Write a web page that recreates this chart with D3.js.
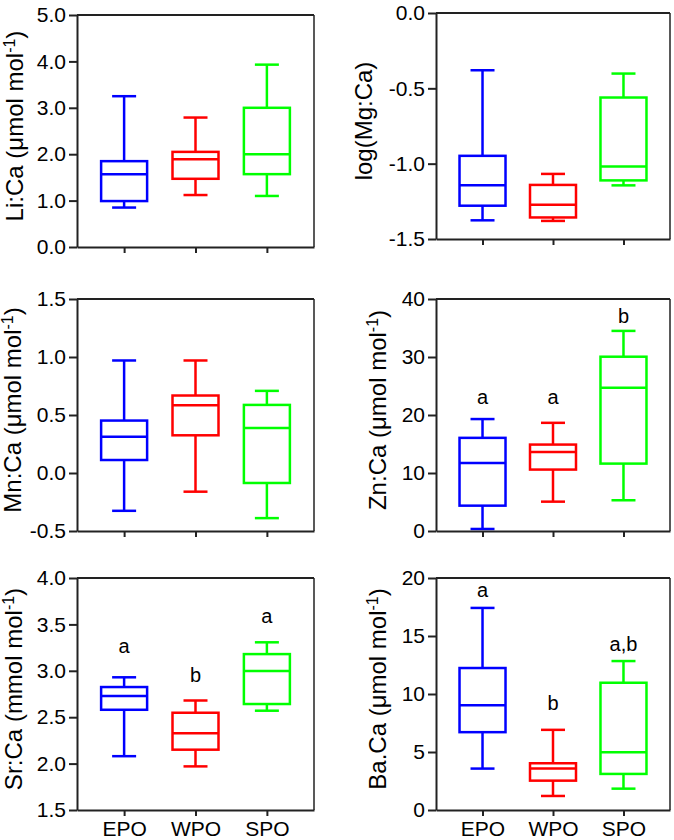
<!DOCTYPE html>
<html>
<head>
<meta charset="utf-8">
<script src="https://cdn.jsdelivr.net/npm/d3@7"></script>
<style>
  html, body { margin: 0; padding: 0; background: #fff; }
  svg { display: block; font-family: "Liberation Sans", Arial, sans-serif; }
</style>
</head>
<body>
<script>
// ---------- data ----------
const categories = ["EPO", "WPO", "SPO"];
const seriesColors = ["#0000ff", "#ff0000", "#00ff00"];

// each row: [min, q1, median, q3, max] for EPO, WPO, SPO
const liCa = [[0.85, 0.99, 1.57, 1.85, 3.25], [1.12, 1.47, 1.89, 2.05, 2.79], [1.10, 1.57, 2.00, 3.00, 3.93]];
const logMgCa = [[-1.376, -1.279, -1.144, -0.948, -0.38], [-1.38, -1.357, -1.272, -1.141, -1.068], [-1.144, -1.111, -1.018, -0.561, -0.402]];
const mnCa = [[-0.326, 0.112, 0.313, 0.452, 0.97], [-0.161, 0.325, 0.584, 0.668, 0.97], [-0.389, -0.086, 0.389, 0.587, 0.708]];
const znCa = [[0.35, 4.37, 11.74, 16.06, 19.3], [5.06, 10.59, 13.64, 14.9, 18.65], [5.3, 11.62, 24.7, 30.05, 34.5]];
const srCa = [[2.08, 2.58, 2.728, 2.825, 2.93], [1.97, 2.15, 2.326, 2.548, 2.68], [2.57, 2.642, 2.998, 3.18, 3.307]];
const baCa = [[3.57, 6.71, 9.04, 12.24, 17.42], [1.21, 2.53, 3.57, 4.03, 6.91], [1.84, 3.11, 4.98, 10.97, 12.84]];

// tick labels
const liTicks = [0, 1, 2, 3, 4, 5];
const mgTicks = [-1.5, -1.0, -0.5, 0.0];
const mnTicks = [-0.5, 0.0, 0.5, 1.0, 1.5];
const znTicks = [0, 10, 20, 30, 40];
const srTicks = [1.5, 2.0, 2.5, 3.0, 3.5, 4.0];
const baTicks = [0, 5, 10, 15, 20];

// significance letters (text, and value of the baseline)
const znLetters = ["a", "a", "b"];
const znLetterVals = [21.9, 21.9, 35.9];
const srLetters = ["a", "b", "a"];
const srLetterVals = [3.195, 2.88, 3.51];
const baLetters = ["a", "b", "a,b"];
const baLetterVals = [18.37, 8.58, 13.67];

// ---------- drawing ----------
const loc = d3.formatLocale({decimal: ".", thousands: ",", grouping: [3], currency: ["", ""], minus: "-"});
const f1 = loc.format(".1f");
const f0 = loc.format("d");

const svg = d3.select("body").append("svg").attr("width", 674).attr("height", 840);
svg.append("rect").attr("width", 674).attr("height", 840).attr("fill", "#fff");

const AX = "#222";

function panel(cfg) {
  const g = svg.append("g").attr("transform", `translate(${cfg.x},${cfg.y})`);
  const x = d3.scalePoint().domain(categories).range([0, cfg.w]).padding(0.66);
  const y = d3.scaleLinear().domain(cfg.domain).range([cfg.h, 0]);
  const boxW = 46, capW = 24, sw = 2.5;

  cfg.data.forEach((s, i) => {
    const cx = x(categories[i]);
    const c = seriesColors[i];
    const bg = g.append("g").attr("stroke", c).attr("stroke-width", sw).attr("fill", "none");
    bg.append("line").attr("x1", cx).attr("x2", cx).attr("y1", y(s[0])).attr("y2", y(s[1]));
    bg.append("line").attr("x1", cx).attr("x2", cx).attr("y1", y(s[3])).attr("y2", y(s[4]));
    bg.append("line").attr("x1", cx - capW / 2).attr("x2", cx + capW / 2).attr("y1", y(s[0])).attr("y2", y(s[0]));
    bg.append("line").attr("x1", cx - capW / 2).attr("x2", cx + capW / 2).attr("y1", y(s[4])).attr("y2", y(s[4]));
    bg.append("rect").attr("x", cx - boxW / 2).attr("width", boxW)
      .attr("y", y(s[3])).attr("height", y(s[1]) - y(s[3]));
    bg.append("line").attr("x1", cx - boxW / 2).attr("x2", cx + boxW / 2).attr("y1", y(s[2])).attr("y2", y(s[2]));
  });

  g.append("line").attr("x1", 0).attr("x2", cfg.w).attr("y1", 0).attr("y2", 0)
    .attr("stroke", AX).attr("stroke-width", 2);
  g.append("line").attr("x1", cfg.w).attr("x2", cfg.w).attr("y1", 0).attr("y2", cfg.h)
    .attr("stroke", AX).attr("stroke-width", 1.5);

  const ya = g.append("g").call(d3.axisLeft(y).tickValues(cfg.ticks).tickFormat(cfg.fmt)
    .tickSize(8).tickSizeOuter(0).tickPadding(3));
  const xa = g.append("g").attr("transform", `translate(0,${cfg.h})`)
    .call(d3.axisBottom(x).tickSize(6).tickSizeOuter(0).tickPadding(5)
      .tickFormat(cfg.showX ? (d => d) : () => ""));
  [ya, xa].forEach(a => {
    a.select(".domain").attr("stroke", AX).attr("stroke-width", 2);
    a.selectAll(".tick line").attr("stroke", AX).attr("stroke-width", 2);
    a.selectAll(".tick text").attr("fill", "#000").style("font-size", "21px")
      .style("font-family", '"Liberation Sans", Arial, sans-serif');
  });

  const t = g.append("text")
    .attr("transform", `translate(${cfg.titleX},${cfg.h / 2 - 5}) rotate(-90)`)
    .attr("text-anchor", "middle").attr("fill", "#000").style("font-size", "24px");
  t.append("tspan").text(cfg.title);
  if (cfg.sup) {
    t.append("tspan").attr("dy", "-8").style("font-size", "16px").text(cfg.sup);
    t.append("tspan").attr("dy", "8").text(")");
  }

  if (cfg.letters) {
    cfg.letters.forEach((L, i) => {
      g.append("text").attr("x", x(categories[i])).attr("y", y(cfg.letterVals[i]))
        .attr("text-anchor", "middle").attr("fill", "#000").style("font-size", "20px").text(L);
    });
  }
}

panel({x: 77, y: 15, w: 237, h: 232, domain: [0, 5], ticks: liTicks, fmt: f1, data: liCa,
  title: "Li:Ca (μmol mol", sup: "-1", titleX: 23 - 77, showX: false});
panel({x: 436, y: 13, w: 234, h: 226, domain: [-1.5, 0], ticks: mgTicks, fmt: f1, data: logMgCa,
  title: "log(Mg:Ca)", sup: null, titleX: 372 - 436, showX: false});
panel({x: 77, y: 299, w: 237, h: 232, domain: [-0.5, 1.5], ticks: mnTicks, fmt: f1, data: mnCa,
  title: "Mn:Ca (μmol mol", sup: "-1", titleX: 21 - 77, showX: false});
panel({x: 436, y: 299, w: 234, h: 232, domain: [0, 40], ticks: znTicks, fmt: f0, data: znCa,
  title: "Zn:Ca (μmol mol", sup: "-1", titleX: 386 - 436, showX: false,
  letters: znLetters, letterVals: znLetterVals});
panel({x: 77, y: 578, w: 237, h: 232, domain: [1.5, 4.0], ticks: srTicks, fmt: f1, data: srCa,
  title: "Sr:Ca (mmol mol", sup: "-1", titleX: 22 - 77, showX: true,
  letters: srLetters, letterVals: srLetterVals});
panel({x: 436, y: 578, w: 234, h: 232, domain: [0, 20], ticks: baTicks, fmt: f0, data: baCa,
  title: "Ba.Ca (μmol mol", sup: "-1", titleX: 386 - 436, showX: true,
  letters: baLetters, letterVals: baLetterVals});
</script>
</body>
</html>
